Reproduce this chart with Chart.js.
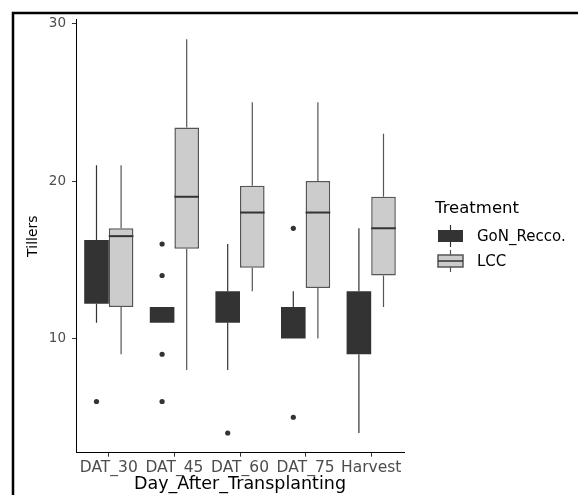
<!DOCTYPE html>
<html>
<head>
<meta charset="utf-8">
<script src="https://cdn.jsdelivr.net/npm/chart.js@4.4.1/dist/chart.umd.min.js"></script>
<style>
  html, body { margin: 0; padding: 0; background: #fff; }
  #wrap { width: 578px; height: 495px; }
</style>
</head>
<body>
<div id="wrap"><canvas id="grafico" width="578" height="495"></canvas></div>
<script>
// ======== DADOS ========
const categorias = ["DAT_30", "DAT_45", "DAT_60", "DAT_75", "Harvest"];
const yTicks = [10, 20, 30];

// GoN_Recco.
const gonMin = [11, 11, 8, 10, 4];
const gonQ1 = [12.2, 11, 11, 10, 9];
const gonMed = [14, 12, 12, 11, 11];
const gonQ3 = [16.25, 12, 13, 12, 13];
const gonMax = [21, 12, 16, 13, 17];
const gonOut = [[6], [16, 14, 9, 6], [4], [17, 5], []];

// LCC
const lccMin = [9, 8, 13, 10, 12];
const lccQ1 = [12, 15.7, 14.5, 13.2, 14];
const lccMed = [16.5, 19, 18, 18, 17];
const lccQ3 = [17, 23.4, 19.7, 20, 19];
const lccMax = [21, 29, 25, 25, 23];
const lccOut = [[], [], [], [], []];

const series = [
    { nome: "GoN_Recco.", min: gonMin, q1: gonQ1, med: gonMed, q3: gonQ3, max: gonMax, out: gonOut,
      fill: "#333333", borda: "#333333", bordaW: 0, linha: "#333333" },
    { nome: "LCC", min: lccMin, q1: lccQ1, med: lccMed, q3: lccQ3, max: lccMax, out: lccOut,
      fill: "#cccccc", borda: "#555555", bordaW: 1.5, linha: "#555555" }
];

Chart.defaults.font.family = "'DejaVu Sans', sans-serif";

// whiskers, medianas, outliers
const boxplotPlugin = {
    id: "boxplot",
    beforeDatasetsDraw(chart) {
        const ctx = chart.ctx;
        const y = chart.scales.y;
        series.forEach((s, i) => {
            const meta = chart.getDatasetMeta(i);
            meta.data.forEach((el, j) => {
                ctx.save();
                ctx.strokeStyle = s.linha;
                ctx.lineWidth = 1.2;
                ctx.beginPath();
                ctx.moveTo(el.x, y.getPixelForValue(s.q3[j]));
                ctx.lineTo(el.x, y.getPixelForValue(s.max[j]));
                ctx.moveTo(el.x, y.getPixelForValue(s.q1[j]));
                ctx.lineTo(el.x, y.getPixelForValue(s.min[j]));
                ctx.stroke();
                ctx.restore();
            });
        });
    },
    afterDatasetsDraw(chart) {
        const ctx = chart.ctx;
        const y = chart.scales.y;
        series.forEach((s, i) => {
            const meta = chart.getDatasetMeta(i);
            meta.data.forEach((el, j) => {
                const w = el.width;
                ctx.save();
                // mediana escura some dentro da caixa escura, igual ao original
                if (s.bordaW > 0) {
                    ctx.strokeStyle = "#333333";
                    ctx.lineWidth = 2;
                    const ym = y.getPixelForValue(s.med[j]);
                    ctx.beginPath();
                    ctx.moveTo(el.x - w / 2, ym);
                    ctx.lineTo(el.x + w / 2, ym);
                    ctx.stroke();
                }
                ctx.fillStyle = "#333333";
                s.out[j].forEach(v => {
                    ctx.beginPath();
                    ctx.arc(el.x, y.getPixelForValue(v), 2.6, 0, Math.PI * 2);
                    ctx.fill();
                });
                ctx.restore();
            });
        });
    },
    afterDraw(chart) {
        const ctx = chart.ctx;
        ctx.save();
        // moldura
        ctx.strokeStyle = "#000";
        ctx.lineWidth = 2.5;
        ctx.beginPath();
        ctx.moveTo(13, 495);
        ctx.lineTo(13, 13);
        ctx.lineTo(578, 13);
        ctx.stroke();

        // legenda
        ctx.fillStyle = "#000";
        ctx.textBaseline = "middle";
        ctx.textAlign = "left";
        ctx.font = "16.5px 'DejaVu Sans'";
        ctx.fillText("Treatment", 435, 209);
        const linhas = [236, 261];
        series.forEach((s, i) => {
            const cy = linhas[i];
            ctx.strokeStyle = s.linha;
            ctx.lineWidth = 1.2;
            ctx.beginPath();
            ctx.moveTo(450.5, cy - 11);
            ctx.lineTo(450.5, cy + 11);
            ctx.stroke();
            ctx.fillStyle = s.fill;
            ctx.fillRect(438, cy - 6, 25, 12);
            if (s.bordaW > 0) {
                ctx.strokeStyle = s.borda;
                ctx.lineWidth = s.bordaW;
                ctx.strokeRect(438, cy - 6, 25, 12);
                ctx.strokeStyle = "#333333";
                ctx.beginPath();
                ctx.moveTo(438, cy);
                ctx.lineTo(463, cy);
                ctx.stroke();
            }
            ctx.fillStyle = "#000";
            ctx.font = "15px 'DejaVu Sans'";
            ctx.fillText(s.nome, 477, cy + 1);
        });
        ctx.restore();
    }
};

new Chart(document.getElementById("grafico"), {
    type: "bar",
    data: {
        labels: categorias,
        datasets: series.map(s => ({
            label: s.nome,
            data: s.q1.map((v, j) => [v, s.q3[j]]),
            backgroundColor: s.fill,
            borderColor: s.borda,
            borderWidth: s.bordaW,
            borderSkipped: false,
            categoryPercentage: 0.75,
            barPercentage: 1
        }))
    },
    options: {
        responsive: false,
        animation: false,
        layout: { padding: { left: 0, top: 19.6, right: 174, bottom: 0 } },
        plugins: {
            legend: { display: false },
            tooltip: { enabled: false }
        },
        scales: {
            x: {
                grid: { offset: false, drawOnChartArea: false, drawTicks: true, tickLength: 4, color: "#333" },
                border: { display: true, color: "#000", width: 1 },
                ticks: { color: "#4d4d4d", font: { size: 15.5 }, padding: 2, autoSkip: false, maxRotation: 0 },
                title: { display: true, text: "Day_After_Transplanting", color: "#000", font: { size: 17.5 }, padding: { top: 0, bottom: 0 } },
                afterFit(scale) { scale.height = 42.3; }
            },
            y: {
                min: 2.75,
                max: 30.25,
                afterBuildTicks(scale) { scale.ticks = yTicks.map(v => ({ value: v })); },
                grid: { drawOnChartArea: false, drawTicks: true, tickLength: 4, color: "#333" },
                border: { display: true, color: "#000", width: 1 },
                ticks: { color: "#4d4d4d", font: { size: 13.5 }, padding: 6 },
                title: { display: true, text: "Tillers", color: "#000", font: { size: 14 }, padding: { top: 24.6, bottom: 0 } },
                afterFit(scale) { scale.width = 76; }
            }
        }
    },
    plugins: [boxplotPlugin]
});
</script>
</body>
</html>
